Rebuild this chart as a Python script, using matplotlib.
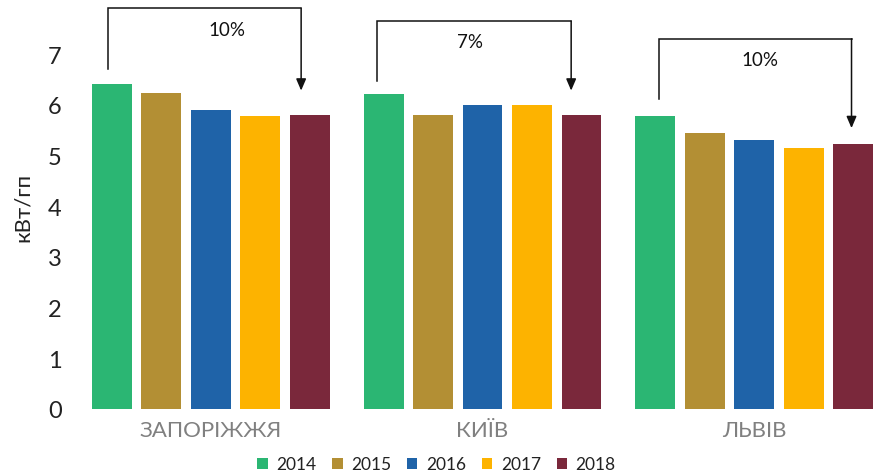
import matplotlib
matplotlib.use("Agg")
import matplotlib.pyplot as plt
import numpy as np

cities = ["ЗАПОРІЖЖЯ", "КИЇВ", "ЛЬВІВ"]
years = ["2014", "2015", "2016", "2017", "2018"]
v2014 = [6.41, 6.21, 5.78]
v2015 = [6.23, 5.80, 5.44]
v2016 = [5.90, 6.00, 5.31]
v2017 = [5.78, 6.00, 5.15]
v2018 = [5.80, 5.80, 5.23]
series = [v2014, v2015, v2016, v2017, v2018]
colors = ["#2BB673", "#B38F34", "#1F63A8", "#FDB300", "#7A283B"]
yticks = [0, 1, 2, 3, 4, 5, 6, 7]
ylabel = "кВт/гп"

# bracket annotations: label, left-leg bottom, bracket top, arrow tip
pct_labels = ["10%", "7%", "10%"]
bracket_bottom = [6.71, 6.47, 6.11]
bracket_top = [7.90, 7.65, 7.30]
arrow_tip = [6.28, 6.28, 5.54]

plt.rcParams['font.family'] = ['Lato', 'DejaVu Sans']

fig = plt.figure(figsize=(8.73, 4.77), dpi=100)
ax = fig.add_axes([70/873, 67/477, 803/873, 405.6/477])

x = np.arange(len(cities))
step = 0.182
width = 0.147
for i, (vals, c, yr) in enumerate(zip(series, colors, years)):
    ax.bar(x + (i - 2) * step, vals, width=width, color=c, label=yr)

ax.set_xlim(-0.517, 2.436)
ax.set_ylim(0, 8)
ax.set_yticks(yticks)
ax.set_yticklabels([str(t) for t in yticks], fontsize=17, color="#222222")
ax.set_xticks(x)
ax.set_xticklabels(cities, fontsize=16, color="#808080")
ax.tick_params(axis='both', length=0)
ax.tick_params(axis='y', pad=6)
ax.tick_params(axis='x', pad=8)
for s in ax.spines.values():
    s.set_visible(False)
ax.set_ylabel(ylabel, fontsize=16, color="#222222", labelpad=11)

left_off = [-0.378, -0.387, -0.352]
right_off = [0.333, 0.326, 0.357]
text_off = [0.06, -0.046, 0.02]
for i in range(len(cities)):
    xl = x[i] + left_off[i]
    xr = x[i] + right_off[i]
    ax.plot([xl, xl, xr], [bracket_bottom[i], bracket_top[i], bracket_top[i]],
            color="#111111", lw=1.1, clip_on=False, solid_joinstyle='miter')
    ax.annotate("", xy=(xr, arrow_tip[i]), xytext=(xr, bracket_top[i]),
                arrowprops=dict(arrowstyle="-|>,head_length=0.7,head_width=0.3",
                                color="#111111", lw=1.1, shrinkA=0, shrinkB=0),
                annotation_clip=False)
    ax.text(x[i] + text_off[i], bracket_top[i] - 0.41,
            pct_labels[i], ha='center', va='center', fontsize=13.5, color="#111111")

leg = fig.legend(loc='lower center', bbox_to_anchor=(0.5, -0.025), ncol=5, frameon=False,
                 fontsize=12.5, handlelength=0.6, handleheight=0.6, handletextpad=0.5,
                 columnspacing=0.9)
for t in leg.get_texts():
    t.set_color("#222222")

fig.savefig("out.png", dpi=100)
